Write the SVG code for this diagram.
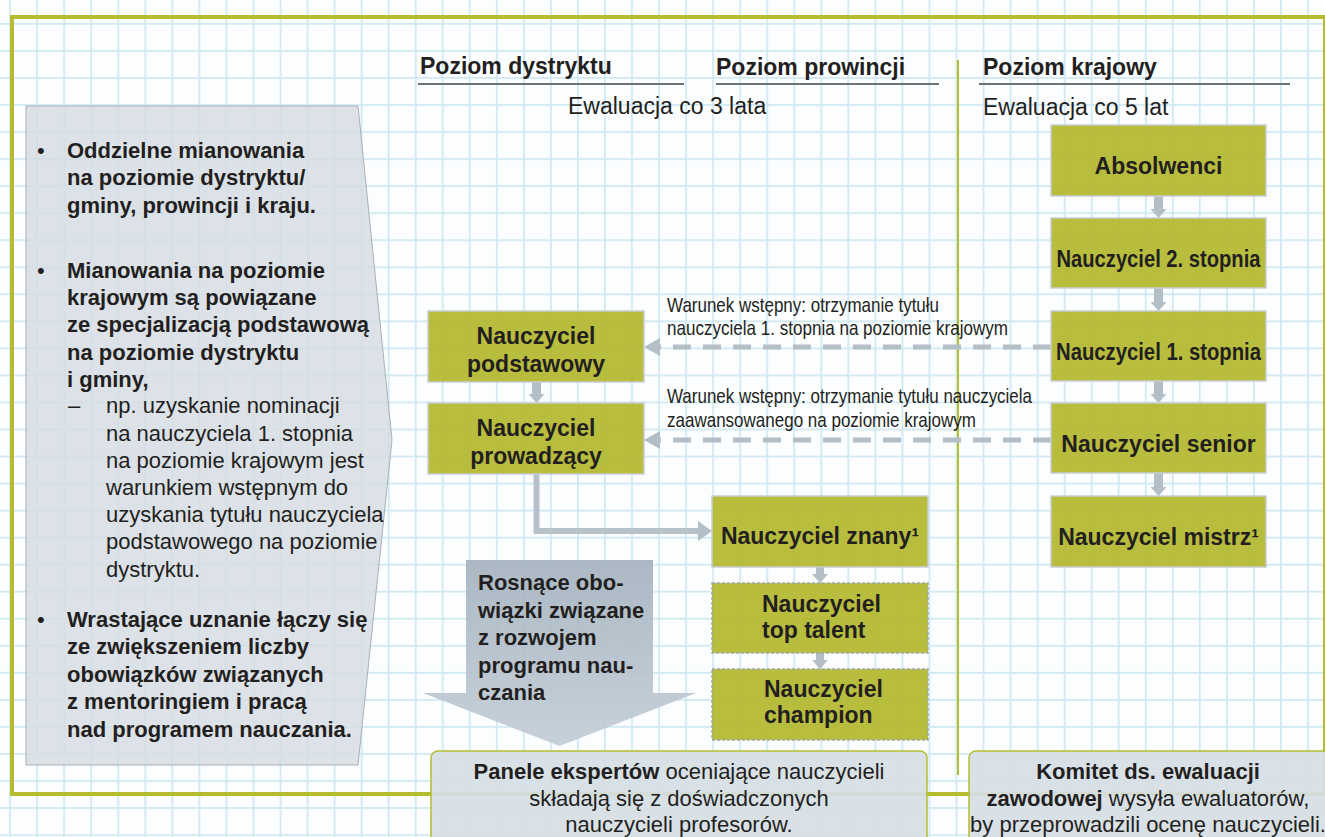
<svg xmlns="http://www.w3.org/2000/svg" width="1325" height="837" viewBox="0 0 1325 837">
<defs>
<pattern id="grid" width="27.04" height="27.04" patternUnits="userSpaceOnUse" x="9.2" y="23.0">
<rect x="0" y="0" width="27.04" height="27.04" fill="#FBFDFE"/>
<rect x="0" y="0" width="1.7" height="27.04" fill="#CFE8F3"/>
<rect x="0" y="0" width="27.04" height="1.7" fill="#CFE8F3"/>
</pattern>
<linearGradient id="bigArrow" x1="0" y1="0" x2="0" y2="1">
<stop offset="0" stop-color="#A5B3BF"/>
<stop offset="1" stop-color="#C3CDD6"/>
</linearGradient>
<style>
.t{font-family:"Liberation Sans",Arial,sans-serif;fill:#231F20}
.b{font-weight:bold}
.lp{font-size:22px}
.hd{font-size:23px;font-weight:bold}
.ev{font-size:23px}
.bx{font-size:23px;font-weight:bold;text-anchor:middle}
.cond{font-family:"Liberation Sans Narrow","Liberation Sans",Arial,sans-serif;font-size:21px;fill:#231F20}
.bot{font-size:22px;text-anchor:middle}
.olive{fill:#B3B72E;fill-opacity:0.92;stroke:#C8CDD2;stroke-width:1.5}
.olived{fill:#B3B72E;fill-opacity:0.92;stroke:#9EA6AE;stroke-width:1.5;stroke-dasharray:3 2}
.gfill{fill:#B3BEC7}
.dash{fill:none;stroke:#B3BEC7;stroke-width:5;stroke-dasharray:18 12}
.conn{fill:none;stroke:#B7C1CA;stroke-width:6}
.uline{stroke:#6D7278;stroke-width:2}
</style>
</defs>
<rect x="0" y="0" width="1325" height="837" fill="url(#grid)"/>
<!-- frame -->
<rect x="12" y="17" width="1313" height="777" fill="none" stroke="#B5BC2F" stroke-width="4"/>
<!-- divider -->
<line x1="958" y1="60" x2="958" y2="775" stroke="#B5BC2F" stroke-width="2"/>

<!-- headers -->
<g id="headers">
<text class="t hd" x="420" y="74">Poziom dystryktu</text>
<line class="uline" x1="418" y1="84" x2="684" y2="84"/>
<text class="t hd" x="716" y="75">Poziom prowincji</text>
<line class="uline" x1="716" y1="84" x2="939" y2="84"/>
<text class="t hd" x="983" y="75">Poziom krajowy</text>
<line class="uline" x1="979" y1="84" x2="1290" y2="84"/>
<text class="t ev" x="568" y="114">Ewaluacja co 3 lata</text>
<text class="t ev" x="983" y="115">Ewaluacja co 5 lat</text>
</g>

<!-- left info panel -->
<g id="info-panel">
<polygon points="26,106 358,106 392,440 358,765 26,765" fill="#D6DDE3" fill-opacity="0.85" stroke="#A9B0B7" stroke-width="1"/>
<g class="t lp">
<text x="37" y="158">•</text>
<text class="b" x="67" y="158">Oddzielne mianowania</text>
<text class="b" x="67" y="185">na poziomie dystryktu/</text>
<text class="b" x="67" y="213">gminy, prowincji i kraju.</text>
<text x="37" y="278">•</text>
<text class="b" x="67" y="278">Mianowania na poziomie</text>
<text class="b" x="67" y="305">krajowym są powiązane</text>
<text class="b" x="67" y="332">ze specjalizacją podstawową</text>
<text class="b" x="67" y="360">na poziomie dystryktu</text>
<text class="b" x="67" y="387">i gminy,</text>
<text x="68" y="413">–</text>
<text x="106" y="413">np. uzyskanie nominacji</text>
<text x="106" y="441">na nauczyciela 1. stopnia</text>
<text x="106" y="468">na poziomie krajowym jest</text>
<text x="106" y="495">warunkiem wstępnym do</text>
<text x="106" y="522">uzyskania tytułu nauczyciela</text>
<text x="106" y="549">podstawowego na poziomie</text>
<text x="106" y="577">dystryktu.</text>
<text x="37" y="627">•</text>
<text class="b" x="67" y="627">Wrastające uznanie łączy się</text>
<text class="b" x="67" y="654">ze zwiększeniem liczby</text>
<text class="b" x="67" y="682">obowiązków związanych</text>
<text class="b" x="67" y="709">z mentoringiem i pracą</text>
<text class="b" x="67" y="737">nad programem nauczania.</text>
</g>
</g>

<!-- big down arrow -->
<g id="responsibility-arrow">
<path d="M466 560 H653 V693 H696 L559.5 746 L423 693 H466 Z" fill="url(#bigArrow)" fill-opacity="0.92"/>
<g class="t lp b">
<text x="478" y="590">Rosnące obo-</text>
<text x="478" y="618">wiązki związane</text>
<text x="478" y="645">z rozwojem</text>
<text x="478" y="673">programu nau-</text>
<text x="478" y="700">czania</text>
</g>
</g>

<!-- connectors -->
<g id="connectors">
<rect class="gfill" x="1154" y="196" width="9" height="13"/><polygon class="gfill" points="1150.5,209 1166.5,209 1158.5,218"/>
<rect class="gfill" x="1154" y="288" width="9" height="14"/><polygon class="gfill" points="1150.5,302 1166.5,302 1158.5,311"/>
<rect class="gfill" x="1154" y="381" width="9" height="13"/><polygon class="gfill" points="1150.5,394 1166.5,394 1158.5,403"/>
<rect class="gfill" x="1154" y="473" width="9" height="14"/><polygon class="gfill" points="1150.5,487 1166.5,487 1158.5,496"/>
<rect class="gfill" x="532" y="382" width="9" height="12"/><polygon class="gfill" points="528.5,394 544.5,394 536.5,403"/>
<path class="conn" d="M536.5 474 V531 H699"/>
<polygon class="gfill" points="698,521 712,531 698,541"/>
<rect class="gfill" x="816" y="567" width="8" height="7"/><polygon class="gfill" points="812,574 828,574 820,583"/>
<rect class="gfill" x="816" y="653" width="8" height="7"/><polygon class="gfill" points="812,660 828,660 820,669"/>
<line class="dash" x1="1051" y1="347" x2="659" y2="347"/>
<polygon class="gfill" points="644,347 660,338 660,356"/>
<line class="dash" x1="1051" y1="440" x2="659" y2="440"/>
<polygon class="gfill" points="644,440 660,431 660,449"/>
<text class="cond" x="667" y="312" textLength="272" lengthAdjust="spacingAndGlyphs">Warunek wstępny: otrzymanie tytułu</text>
<text class="cond" x="667" y="335" textLength="341" lengthAdjust="spacingAndGlyphs">nauczyciela 1. stopnia na poziomie krajowym</text>
<text class="cond" x="667" y="403" textLength="365" lengthAdjust="spacingAndGlyphs">Warunek wstępny: otrzymanie tytułu nauczyciela</text>
<text class="cond" x="667" y="427" textLength="309" lengthAdjust="spacingAndGlyphs">zaawansowanego na poziomie krajowym</text>
</g>

<!-- national nodes -->
<g id="absolwenci">
<rect class="olive" x="1051" y="125" width="215" height="71"/>
<text class="t bx" x="1158.5" y="174">Absolwenci</text>
</g>
<g id="nauczyciel-2-stopnia">
<rect class="olive" x="1051" y="218" width="215" height="70"/>
<text class="t bx" x="1158.5" y="267" textLength="204" lengthAdjust="spacingAndGlyphs">Nauczyciel 2. stopnia</text>
</g>
<g id="nauczyciel-1-stopnia">
<rect class="olive" x="1051" y="311" width="215" height="70"/>
<text class="t bx" x="1158.5" y="360" textLength="205" lengthAdjust="spacingAndGlyphs">Nauczyciel 1. stopnia</text>
</g>
<g id="nauczyciel-senior">
<rect class="olive" x="1051" y="403" width="215" height="70"/>
<text class="t bx" x="1158.5" y="452">Nauczyciel senior</text>
</g>
<g id="nauczyciel-mistrz">
<rect class="olive" x="1051" y="496" width="215" height="71"/>
<text class="t bx" x="1158.5" y="545">Nauczyciel mistrz¹</text>
</g>

<!-- district nodes -->
<g id="nauczyciel-podstawowy">
<rect class="olive" x="428" y="311" width="216" height="71"/>
<text class="t bx" x="536" y="344">Nauczyciel</text>
<text class="t bx" x="536" y="372">podstawowy</text>
</g>
<g id="nauczyciel-prowadzacy">
<rect class="olive" x="428" y="403" width="216" height="71"/>
<text class="t bx" x="536" y="436">Nauczyciel</text>
<text class="t bx" x="536" y="464">prowadzący</text>
</g>

<!-- provincial nodes -->
<g id="nauczyciel-znany">
<rect class="olive" x="712" y="496" width="216" height="71"/>
<text class="t bx" x="820" y="544">Nauczyciel znany¹</text>
</g>
<g id="nauczyciel-top-talent">
<rect class="olived" x="712" y="583" width="216" height="70"/>
<text class="t hd" x="762" y="612">Nauczyciel</text>
<text class="t hd" x="762" y="638">top talent</text>
</g>
<g id="nauczyciel-champion">
<rect class="olived" x="712" y="669" width="216" height="71"/>
<text class="t hd" x="764" y="697">Nauczyciel</text>
<text class="t hd" x="764" y="723">champion</text>
</g>

<!-- bottom panels -->
<g id="panele-ekspertow">
<rect x="431" y="751" width="496" height="100" rx="7" fill="#D6DEE5" fill-opacity="0.92" stroke="#B5BC2F" stroke-width="1.5"/>
<text class="t bot" x="679" y="779"><tspan font-weight="bold">Panele ekspertów</tspan> oceniające nauczycieli</text>
<text class="t bot" x="679" y="806">składają się z doświadczonych</text>
<text class="t bot" x="679" y="832">nauczycieli profesorów.</text>
</g>
<g id="komitet">
<rect x="969" y="751" width="380" height="100" rx="7" fill="#D6DEE5" fill-opacity="0.92" stroke="#B5BC2F" stroke-width="1.5"/>
<text class="t bot b" x="1148" y="779">Komitet ds. ewaluacji</text>
<text class="t bot" x="1148" y="806"><tspan font-weight="bold">zawodowej</tspan> wysyła ewaluatorów,</text>
<text class="t bot" x="1148" y="832">by przeprowadzili ocenę nauczycieli.</text>
</g>
</svg>
